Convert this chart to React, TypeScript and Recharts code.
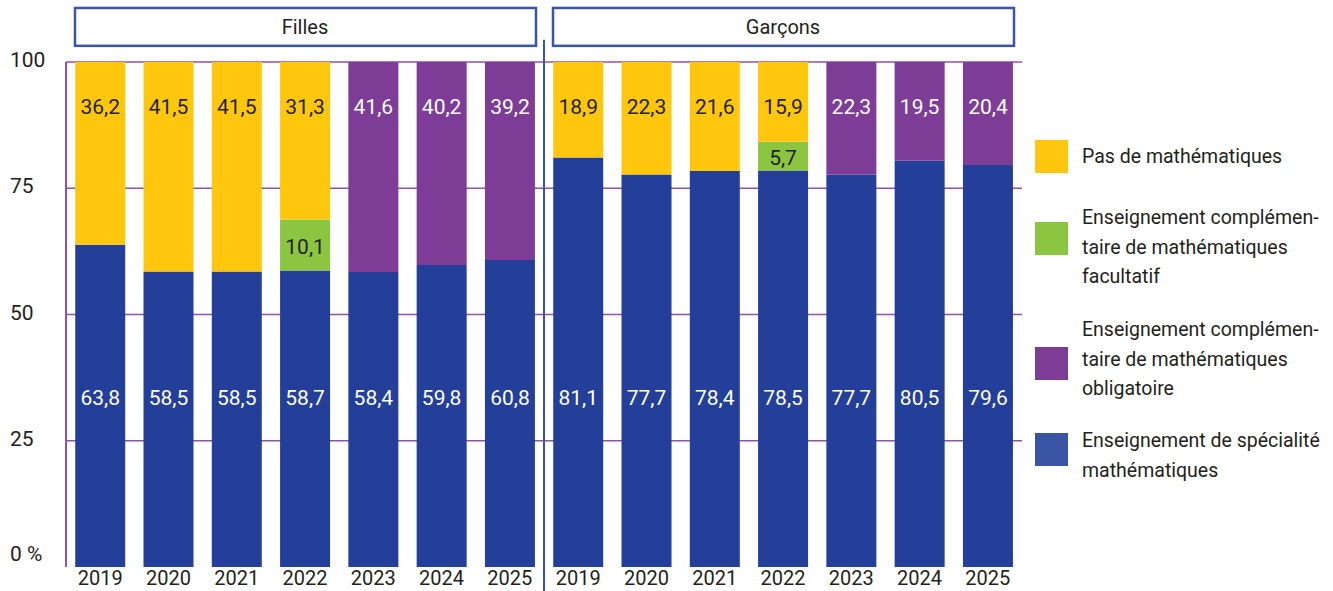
import {
  BarChart,
  Bar,
  XAxis,
  YAxis,
  CartesianGrid,
  Legend,
  LabelList,
  ReferenceArea,
  ReferenceLine,
} from "recharts";

const years = ["2019", "2020", "2021", "2022", "2023", "2024", "2025"];

// Filles
const fillesSpecialite = [63.8, 58.5, 58.5, 58.7, 58.4, 59.8, 60.8];
const fillesFacultatif = [null, null, null, 10.1, null, null, null];
const fillesObligatoire = [null, null, null, null, 41.6, 40.2, 39.2];
const fillesPasMaths = [36.2, 41.5, 41.5, 31.3, null, null, null];

// Garçons
const garconsSpecialite = [81.1, 77.7, 78.4, 78.5, 77.7, 80.5, 79.6];
const garconsFacultatif = [null, null, null, 5.7, null, null, null];
const garconsObligatoire = [null, null, null, null, 22.3, 19.5, 20.4];
const garconsPasMaths = [18.9, 22.3, 21.6, 15.9, null, null, null];

const yTicks = [0, 25, 50, 75, 100];

const FONT = "Roboto, 'Liberation Sans', sans-serif";
const TEXT = "#231f20";
const GRID = "#8e52aa";
const FRAME = "#3a55a7";

const COLORS = {
  specialite: "#233f99",
  facultatif: "#8cc53f",
  obligatoire: "#7d3d97",
  pasMaths: "#fec70d",
};

const legendItems = [
  { name: "Pas de mathématiques", color: "#fec70d", lines: ["Pas de mathématiques"], top: 142, square: -2 },
  {
    name: "facultatif",
    color: "#8cc53f",
    lines: ["Enseignement complémen-", "taire de mathématiques", "facultatif"],
    top: 203,
    square: 19,
  },
  {
    name: "obligatoire",
    color: "#7d3d97",
    lines: ["Enseignement complémen-", "taire de mathématiques", "obligatoire"],
    top: 315,
    square: 32,
  },
  {
    name: "spécialité",
    color: "#3a54a4",
    lines: ["Enseignement de spécialité", "mathématiques"],
    top: 426,
    square: 7,
  },
];

const chartData = [
  ...years.map((y, i) => ({
    key: `F${y}`,
    year: y,
    specialite: fillesSpecialite[i],
    facultatif: fillesFacultatif[i],
    obligatoire: fillesObligatoire[i],
    pasMaths: fillesPasMaths[i],
  })),
  ...years.map((y, i) => ({
    key: `G${y}`,
    year: y,
    specialite: garconsSpecialite[i],
    facultatif: garconsFacultatif[i],
    obligatoire: garconsObligatoire[i],
    pasMaths: garconsPasMaths[i],
  })),
];

function fmt(v: number) {
  return v.toFixed(1).replace(".", ",");
}

function makeLabel(color: string, mode: "top" | "bottom" | "center") {
  return (props: any) => {
    const { x, y, width, height, value } = props;
    if (value == null) return null;
    const cx = Number(x) + Number(width) / 2;
    let cy = Number(y) + Number(height) / 2 + 2;
    if (mode === "top") cy = Number(y) + 45;
    if (mode === "bottom") cy = Number(y) + Number(height) - 169;
    return (
      <text
        x={cx}
        y={cy}
        textAnchor="middle"
        dominantBaseline="central"
        fill={color}
        fontSize={21}
        fontFamily={FONT}
      >
        {fmt(Number(value))}
      </text>
    );
  };
}

function YTick(props: any) {
  const { y, payload } = props;
  const v = payload.value;
  return (
    <text
      x={10}
      y={v === 0 ? y - 13 : y - 2}
      textAnchor="start"
      dominantBaseline="central"
      fill={TEXT}
      fontSize={21}
      fontFamily={FONT}
    >
      {v === 0 ? "0 %" : v}
    </text>
  );
}

function HeaderBox(props: any) {
  const { x, y, width, height } = props;
  return (
    <rect
      x={x + 9}
      y={y}
      width={width - 17}
      height={height}
      fill="#ffffff"
      stroke={FRAME}
      strokeWidth={2.5}
    />
  );
}

function renderLegend() {
  return (
    <div style={{ position: "relative", width: 298, height: 591, fontFamily: FONT, color: TEXT }}>
      {legendItems.map((item) => (
        <div key={item.name} style={{ position: "absolute", left: 0, top: item.top }}>
          <div
            style={{
              position: "absolute",
              left: 0,
              top: item.square,
              width: 33,
              height: 33,
              background: item.color,
            }}
          />
          <div style={{ marginLeft: 47, fontSize: 19.5, lineHeight: "29.5px", whiteSpace: "nowrap" }}>
            {item.lines.map((l) => (
              <div key={l}>{l}</div>
            ))}
          </div>
        </div>
      ))}
    </div>
  );
}

export default function App() {
  return (
    <div style={{ position: "absolute", left: 0, top: 0, width: 1333, height: 591, background: "#fff" }}>
      <BarChart
        width={1333}
        height={591}
        data={chartData}
        margin={{ top: 62, right: 311, left: 0, bottom: 0 }}
        barCategoryGap="13.5%"
      >
        <CartesianGrid
          vertical={false}
          horizontalValues={[25, 50, 75, 100]}
          stroke={GRID}
          strokeWidth={1.5}
        />
        <XAxis
          dataKey="key"
          tickFormatter={(k: string) => k.slice(1)}
          axisLine={false}
          tickLine={false}
          interval={0}
          height={24}
          tickSize={4}
          tickMargin={0}
          tick={{ fill: TEXT, fontSize: 20, fontFamily: FONT }}
        />
        <YAxis
          width={66}
          domain={[0, 100]}
          ticks={yTicks}
          allowDataOverflow
          axisLine={{ stroke: GRID, strokeWidth: 2 }}
          tickLine={false}
          tick={<YTick />}
        />
        <Bar dataKey="specialite" stackId="a" fill={COLORS.specialite} isAnimationActive={false}>
          <LabelList dataKey="specialite" content={makeLabel("#ffffff", "bottom")} />
        </Bar>
        <Bar dataKey="facultatif" stackId="a" fill={COLORS.facultatif} isAnimationActive={false}>
          <LabelList dataKey="facultatif" content={makeLabel(TEXT, "center")} />
        </Bar>
        <Bar dataKey="obligatoire" stackId="a" fill={COLORS.obligatoire} isAnimationActive={false}>
          <LabelList dataKey="obligatoire" content={makeLabel("#ffffff", "top")} />
        </Bar>
        <Bar dataKey="pasMaths" stackId="a" fill={COLORS.pasMaths} isAnimationActive={false}>
          <LabelList dataKey="pasMaths" content={makeLabel(TEXT, "top")} />
        </Bar>
        <ReferenceArea
          x1="F2019"
          x2="F2025"
          y1={103.2}
          y2={110.7}
          ifOverflow="visible"
          shape={<HeaderBox />}
          label={{ value: "Filles", position: "center", fill: TEXT, fontSize: 20, fontFamily: FONT }}
        />
        <ReferenceArea
          x1="G2019"
          x2="G2025"
          y1={103.2}
          y2={110.7}
          ifOverflow="visible"
          shape={<HeaderBox />}
          label={{ value: "Garçons", position: "center", fill: TEXT, fontSize: 20, fontFamily: FONT }}
        />
        <ReferenceLine
          segment={[
            { x: "G2019", y: -4.8 },
            { x: "G2019", y: 104.4 },
          ]}
          position="start"
          ifOverflow="visible"
          stroke={FRAME}
          strokeWidth={2}
        />
        <Legend
          layout="vertical"
          align="center"
          verticalAlign="middle"
          content={renderLegend}
          wrapperStyle={{ position: "absolute", left: 1035, top: 0, width: 298, height: 591 }}
        />
      </BarChart>
    </div>
  );
}
